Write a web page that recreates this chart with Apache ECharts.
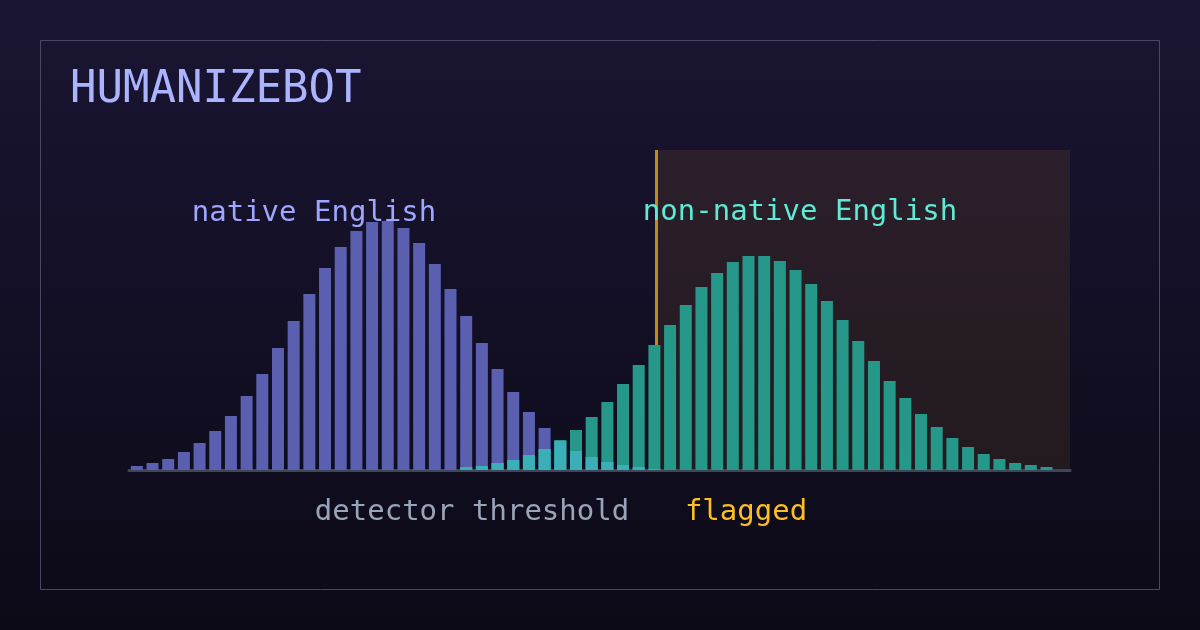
<!DOCTYPE html>
<html>
<head>
<meta charset="utf-8">
<script src="https://cdn.jsdelivr.net/npm/echarts@6/dist/echarts.min.js"></script>
<style>
html,body{margin:0;padding:0;background:#120f24;}
#chart{width:1200px;height:630px;}
</style>
</head>
<body>
<div id="chart"></div>
<script>
// detector score bins (60 bins over score 0..1)
const bins = Array.from({length: 60}, (_, i) => String(i));
// native English essays per bin
const nativeEnglish = [4,7,11,18,27,39,54,74,96,122,149,176,202,223,239,248,249,242,227,206,181,154,127,101,78,58,42,29,19,13,8,5,3,1,0,0,0,0,0,0,0,0,0,0,0,0,0,0,0,0,0,0,0,0,0,0,0,0,0,0];
// non-native English essays per bin
const nonNativeEnglish = [0,0,0,0,0,0,0,0,0,0,0,0,0,0,0,0,0,0,0,0,0,3,4,7,10,15,21,30,40,53,68,86,105,125,145,165,183,197,208,214,214,209,200,186,169,150,129,109,89,72,56,43,32,23,16,11,7,5,3,0];
const thresholdScore = 0.5617;
const titleText = 'HUMANIZEBOT';
const labelNative = 'native English';
const labelNonNative = 'non-native English';
const labelThreshold = 'detector threshold';
const labelFlagged = 'flagged';

const overlap = nativeEnglish.map((v, i) => Math.min(v, nonNativeEnglish[i]));

const chart = echarts.init(document.getElementById('chart'), null, {renderer: 'canvas'});
const mono = 'DejaVu Sans Mono';
chart.setOption({
  animation: false,
  backgroundColor: {
    type: 'linear', x: 0, y: 0, x2: 0, y2: 1,
    colorStops: [{offset: 0, color: '#1a1533'}, {offset: 1, color: '#0c0a17'}]
  },
  grid: {left: 129, right: 130, top: 150, bottom: 160},
  xAxis: [
    {type: 'category', data: bins, offset: 1.5,
     axisLine: {show: true, lineStyle: {color: '#3c4859', width: 3}},
     axisTick: {show: false}, axisLabel: {show: false}, splitLine: {show: false}},
    {type: 'value', min: 0, max: 1, show: false}
  ],
  yAxis: {type: 'value', min: 0, max: 320, show: false, splitLine: {show: false}},
  series: [
    {
      type: 'line', xAxisIndex: 1, data: [[thresholdScore, 0]], showSymbol: false, z: 1,
      lineStyle: {opacity: 0}, silent: true,
      markArea: {
        silent: true, z: 0,
        itemStyle: {color: {type: 'linear', x: 0, y: 0, x2: 0, y2: 1,
          colorStops: [{offset: 0, color: '#2b1f2b'}, {offset: 1, color: '#231a1f'}]}},
        data: [[{xAxis: thresholdScore}, {xAxis: 1}]]
      },
      markLine: {
        silent: true, symbol: 'none', label: {show: false}, z: 1,
        lineStyle: {color: '#c28a1c', width: 3, type: 'solid'},
        data: [{xAxis: thresholdScore}]
      }
    },
    {type: 'bar', name: labelNative, data: nativeEnglish, barWidth: 12, barGap: '-100%', z: 2,
     itemStyle: {color: '#5a5fb0'}},
    {type: 'bar', name: labelNonNative, data: nonNativeEnglish, barWidth: 12, barGap: '-100%', z: 2,
     itemStyle: {color: '#26988a'}},
    {type: 'bar', name: 'overlap', data: overlap, barWidth: 12, barGap: '-100%', z: 3,
     itemStyle: {color: '#3aafb8'}}
  ],
  graphic: [
    {type: 'rect', shape: {x: 40.5, y: 40.5, width: 1119, height: 549}, silent: true,
     style: {fill: 'none', stroke: '#4a4663', lineWidth: 1}, z: -1},
    {type: 'text', left: 70, top: 69, z: 100, style: {text: titleText, fill: '#aab4ff', font: '44px "' + mono + '"'}},
    {type: 'text', x: 314, y: 213, z: 100, style: {text: labelNative, fill: '#9ea6ff', font: '29px "' + mono + '"', textAlign: 'center', textVerticalAlign: 'middle'}},
    {type: 'text', x: 800, y: 212, z: 100, style: {text: labelNonNative, fill: '#5eead4', font: '29px "' + mono + '"', textAlign: 'center', textVerticalAlign: 'middle'}},
    {type: 'text', x: 472, y: 512, z: 100, style: {text: labelThreshold, fill: '#9aa4b8', font: '29px "' + mono + '"', textAlign: 'center', textVerticalAlign: 'middle'}},
    {type: 'text', x: 746, y: 512, z: 100, style: {text: labelFlagged, fill: '#fbbf24', font: '29px "' + mono + '"', textAlign: 'center', textVerticalAlign: 'middle'}}
  ]
});
</script>
</body>
</html>
